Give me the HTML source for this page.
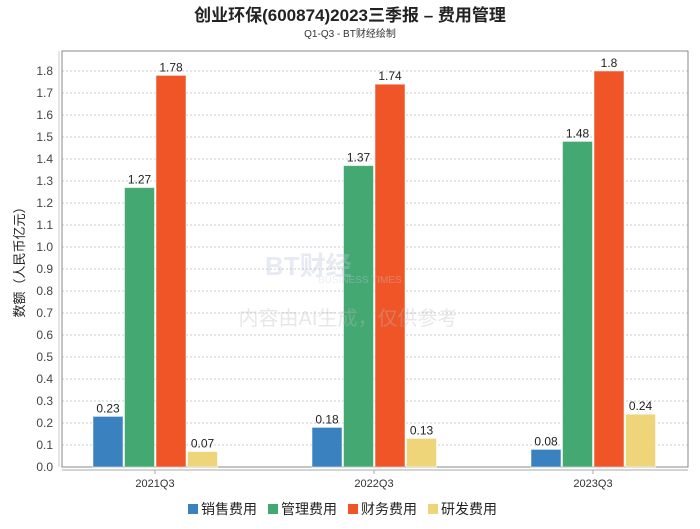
<!DOCTYPE html>
<html><head><meta charset="utf-8"><style>
body{margin:0;background:#fff;font-family:"Liberation Sans","Noto Sans CJK SC",sans-serif}
</style></head><body>
<svg width="700" height="524" xmlns="http://www.w3.org/2000/svg" font-family="Liberation Sans, Noto Sans CJK SC, sans-serif">
<text x="350" y="21" text-anchor="middle" font-size="17" font-weight="bold" fill="#222">创业环保(600874)2023三季报 – 费用管理</text>
<text x="350" y="37" text-anchor="middle" font-size="10" fill="#333">Q1-Q3 - BT财经绘制</text>
<g id="grid"></g>
<rect x="62" y="51" width="626" height="416" fill="none" stroke="#888"/>
<line x1="62" y1="470" x2="688" y2="470" stroke="#aaa"/>
<line x1="59" y1="51" x2="59" y2="467" stroke="#ccc"/>
<g id="ticks"></g>
<g id="bars"></g>
<g opacity="0.35">
<text x="265" y="275" font-size="26" font-weight="bold" fill="#b8c6dc">BT财经</text>
<text x="318" y="283" font-size="10" fill="#c8d0dc">BUSINESS TIMES</text>
<text x="348" y="325" text-anchor="middle" font-size="20" fill="#bbb">内容由AI生成，仅供参考</text>
</g>
<text transform="translate(24,259) rotate(-90)" text-anchor="middle" font-size="13" fill="#222">数额（人民币亿元）</text>
<g id="legend"></g>
</svg>
<script>
const categories=["2021Q3","2022Q3","2023Q3"];
const seriesNames=["销售费用","管理费用","财务费用","研发费用"];
const sales=[0.23,0.18,0.08];
const admin=[1.27,1.37,1.48];
const finance=[1.78,1.74,1.8];
const rnd=[0.07,0.13,0.24];
const yTicks=[0,0.1,0.2,0.3,0.4,0.5,0.6,0.7,0.8,0.9,1.0,1.1,1.2,1.3,1.4,1.5,1.6,1.7,1.8];
const colors=["#3a82bf","#44a872","#f05528","#efd57a"];
const NS="http://www.w3.org/2000/svg";
const y=v=>467-v*220;
const x=i=>155+i*219;
function mk(t,a,p){const e=document.createElementNS(NS,t);for(const k in a)e.setAttribute(k,a[k]);p.appendChild(e);return e;}
const grid=document.getElementById('grid'),ticks=document.getElementById('ticks'),bars=document.getElementById('bars'),leg=document.getElementById('legend');
yTicks.forEach(v=>{
 if(v>0){const l=mk('line',{x1:62,x2:688,y1:y(v),y2:y(v),stroke:'#ccc','stroke-dasharray':'2,2'},grid);
 
 }
 const t=mk('text',{x:53,y:y(v)+4,'text-anchor':'end','font-size':12,fill:'#444'},ticks);t.textContent=v.toFixed(1);
 
 
});
const data=[sales,admin,finance,rnd];
categories.forEach((c,i)=>{
 const t=mk('text',{x:x(i),y:487,'text-anchor':'middle','font-size':11,fill:'#333'},ticks);t.textContent=c;
 
 
 mk('line',{x1:x(i),x2:x(i),y1:470,y2:474,stroke:'#aaa'},ticks);
 data.forEach((s,j)=>{
  const bx=x(i)-62+j*31.5;
  const r=mk('rect',{x:bx,y:y(s[i]),width:30,height:467-y(s[i]),fill:colors[j],stroke:'#fff','stroke-opacity':0.5},bars);
  
  
  const lt=mk('text',{x:bx+15,y:y(s[i])-4,'text-anchor':'middle','font-size':12,fill:'#222'},bars);lt.textContent=String(s[i]);
  
  
 });
});
let lx=188;
seriesNames.forEach((n,j)=>{
 mk('rect',{x:lx,y:504,width:10,height:10,fill:colors[j]},leg);
 const t=mk('text',{x:lx+13,y:514,'font-size':14,fill:'#222'},leg);t.textContent=n;
 
 
 lx+=80;
});
</script>
</body></html>
